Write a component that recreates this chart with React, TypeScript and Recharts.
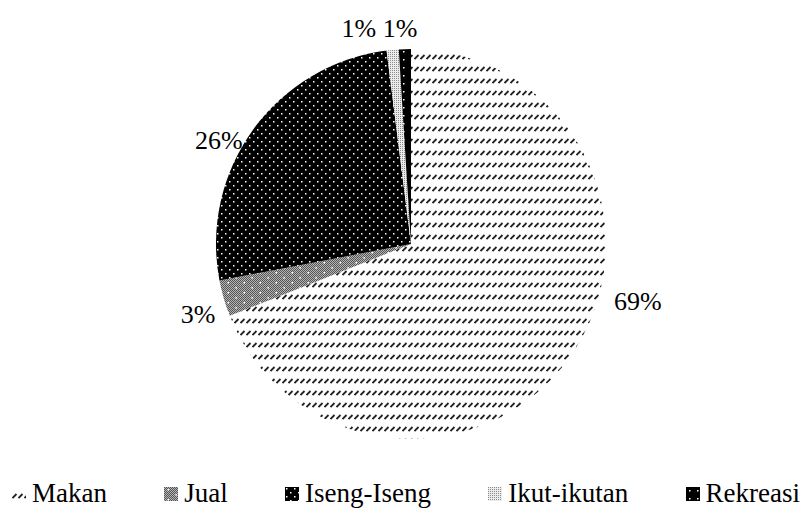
import { PieChart, Pie, Cell, Legend } from "recharts";

// survey shares (%) per motive
const categories = ["Makan", "Jual", "Iseng-Iseng", "Ikut-ikutan", "Rekreasi"];
const shares = [69, 3, 26, 1, 1];

const fills = ["url(#pMakan)", "url(#pJual)", "url(#pIseng)", "url(#pIkut)", "url(#pRekreasi)"];

// label nudges (angle offset in degrees, radius factor) so labels sit clear of the pie
const labelPlace = [
  { da: 20, k: 1.2 },
  { da: 2, k: 1.15 },
  { da: 7.6, k: 1.12 },
  { da: 8.2, k: 1.135 },
  { da: 1.1, k: 1.105 },
];

const data = categories.map((name, i) => ({ name, value: shares[i] }));

const FONT = '"Liberation Serif", "Times New Roman", Tinos, serif';
const RAD = Math.PI / 180;

function Patterns() {
  return (
    <defs>
      <pattern id="pMakan" patternUnits="userSpaceOnUse" width="6" height="12">
        <rect width="6" height="12" fill="#fff" />
        <line x1="0.5" y1="11" x2="4.5" y2="7" stroke="#222" strokeWidth="1.8" />
      </pattern>
      <pattern id="pChecker" patternUnits="userSpaceOnUse" width="2" height="2">
        <rect width="2" height="2" fill="#b4b4b4" />
        <rect width="1" height="1" fill="#555" />
        <rect x="1" y="1" width="1" height="1" fill="#555" />
      </pattern>
      <pattern id="pJual" patternUnits="userSpaceOnUse" width="16" height="10">
        <rect width="16" height="10" fill="url(#pChecker)" />
        <rect x="3.5" y="2" width="1.5" height="1.5" fill="#fff" />
        <rect x="11.5" y="7" width="1.5" height="1.5" fill="#fff" />
      </pattern>
      <pattern id="pIseng" patternUnits="userSpaceOnUse" width="8" height="8">
        <rect width="8" height="8" fill="#000" />
        <rect x="1" y="1" width="1.5" height="1.5" fill="#fff" />
        <rect x="5" y="5" width="1.5" height="1.5" fill="#fff" />
      </pattern>
      <pattern id="pIkut" patternUnits="userSpaceOnUse" width="2" height="2">
        <rect width="2" height="2" fill="#ececec" />
        <rect width="1" height="1" fill="#8a8a8a" />
      </pattern>
      <pattern id="pRekreasi" patternUnits="userSpaceOnUse" width="8" height="8">
        <rect width="8" height="8" fill="#000" />
        <rect x="3" y="3" width="1.5" height="1.5" fill="#fff" />
      </pattern>
    </defs>
  );
}

function renderLabel(props: any) {
  const { cx, cy, midAngle, outerRadius, value, index } = props;
  const p = labelPlace[index];
  const a = midAngle + p.da;
  const r = outerRadius * p.k;
  const x = cx + r * Math.cos(-a * RAD);
  const y = cy + r * Math.sin(-a * RAD);
  return (
    <text
      x={x}
      y={y}
      textAnchor="middle"
      dominantBaseline="central"
      style={{ fontFamily: FONT, fontSize: 26 }}
      fill="#000"
    >
      {`${value}%`}
    </text>
  );
}

function renderLegend() {
  return (
    <div
      style={{
        display: "flex",
        justifyContent: "space-between",
        alignItems: "center",
        paddingLeft: 12,
        paddingRight: 3,
        fontFamily: FONT,
        fontSize: 27,
        lineHeight: "27px",
        color: "#000",
      }}
    >
      {categories.map((name, i) => (
        <div key={name} style={{ display: "flex", alignItems: "center" }}>
          <svg width={14} height={14} style={{ marginRight: 6 }}>
            <rect width={14} height={14} fill={fills[i]} />
          </svg>
          <span>{name}</span>
        </div>
      ))}
    </div>
  );
}

export default function App() {
  return (
    <div style={{ position: "absolute", left: 0, top: 0, width: 803, height: 508, background: "#fff", fontFamily: FONT }}>
      <PieChart width={803} height={508}>
        <Patterns />
        <Pie
          data={data}
          dataKey="value"
          nameKey="name"
          cx={406}
          cy={239}
          outerRadius={195}
          startAngle={90}
          endAngle={-270}
          stroke="none"
          label={renderLabel}
          labelLine={false}
          isAnimationActive={false}
        >
          {data.map((d, i) => (
            <Cell key={d.name} fill={fills[i]} />
          ))}
        </Pie>
        <Legend
          content={renderLegend}
          wrapperStyle={{ position: "absolute", left: 0, top: 480, width: 803, height: 27 }}
        />
      </PieChart>
    </div>
  );
}
